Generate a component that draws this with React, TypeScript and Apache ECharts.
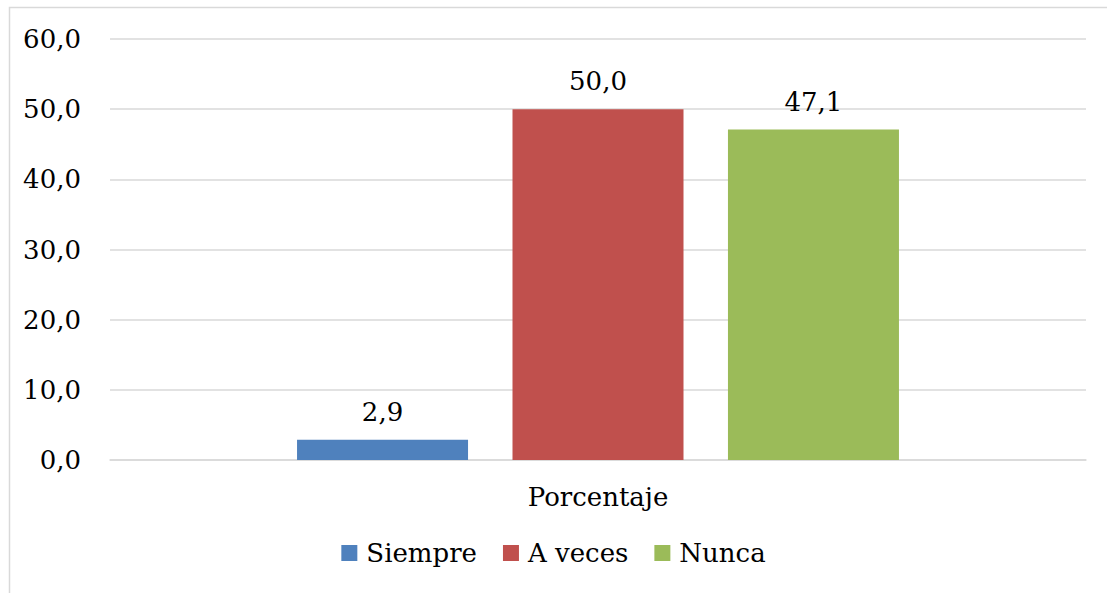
import React, { useEffect, useRef } from "react";
import * as echarts from "echarts";

const categories = ["Porcentaje"];
const seriesNames = ["Siempre", "A veces", "Nunca"];
const seriesValues = [[2.9], [50.0], [47.1]];
const seriesColors = ["#4F81BD", "#C0504D", "#9BBB59"];
const yTicks = { min: 0, max: 60, interval: 10 };

const FONT = "DejaVu Serif";
const FS = 26;
const fmt = (v: number) => v.toFixed(1).replace(".", ",");

export default function App() {
  const ref = useRef<HTMLDivElement>(null);
  useEffect(() => {
    if (!ref.current) return;
    const chart = echarts.init(ref.current, undefined, { renderer: "svg" });
    chart.setOption({
      animation: false,
      backgroundColor: "#ffffff",
      textStyle: { fontFamily: FONT, color: "#000" },
      graphic: [
        {
          type: "rect",
          shape: { x: 9.5, y: 7.5, width: 1200, height: 700 },
          style: { fill: "none", stroke: "#D9D9D9", lineWidth: 1.5 },
          silent: true,
        },
      ],
      grid: { left: 110, right: 21, top: 39, bottom: 133, containLabel: false },
      legend: {
        data: seriesNames,
        bottom: 22,
        left: "center",
        icon: "rect",
        itemWidth: 16,
        itemHeight: 16,
        itemGap: 26,
        textStyle: { fontFamily: FONT, fontSize: FS, color: "#000", padding: [0, 0, 0, 4] },
      },
      xAxis: {
        type: "category",
        data: categories,
        axisLine: { show: true, lineStyle: { color: "#D9D9D9", width: 1.5 } },
        axisTick: { show: false },
        axisLabel: { fontFamily: FONT, fontSize: FS, color: "#000", margin: 24 },
      },
      yAxis: {
        type: "value",
        min: yTicks.min,
        max: yTicks.max,
        interval: yTicks.interval,
        axisLine: { show: false },
        axisTick: { show: false },
        splitLine: { lineStyle: { color: "#D9D9D9", width: 1.5 } },
        axisLabel: {
          fontFamily: FONT,
          fontSize: FS,
          color: "#000",
          margin: 29,
          formatter: (v: number) => fmt(v),
        },
      },
      series: seriesNames.map((name, i) => ({
        name,
        type: "bar",
        data: seriesValues[i],
        barWidth: 171,
        barGap: "26%",
        itemStyle: { color: seriesColors[i] },
        label: {
          show: true,
          position: "top",
          distance: 15,
          fontFamily: FONT,
          fontSize: FS,
          color: "#000",
          formatter: (p: any) => fmt(p.value),
        },
      })),
    });
    return () => chart.dispose();
  }, []);
  return (
    <div
      ref={ref}
      style={{ position: "absolute", left: 0, top: 0, width: 1107, height: 593 }}
    />
  );
}
